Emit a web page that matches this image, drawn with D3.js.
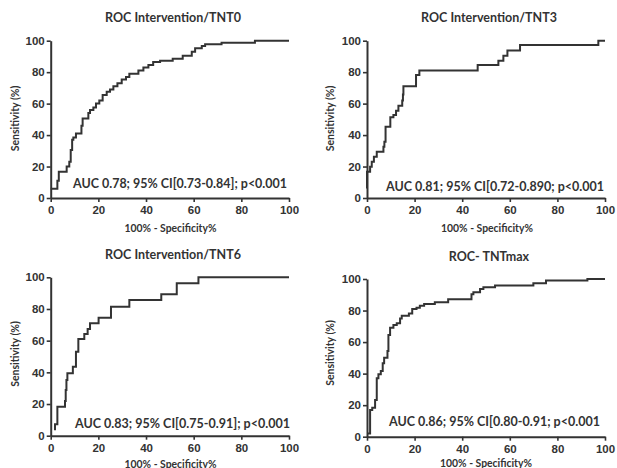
<!DOCTYPE html>
<html>
<head>
<meta charset="utf-8">
<script src="https://cdn.jsdelivr.net/npm/d3@7"></script>
<style>
  html, body { margin: 0; padding: 0; background: #fff; }
  svg { display: block; }
</style>
</head>
<body>
<svg id="chart" width="617" height="468"></svg>
<script>
// ---- data ----
const titles = ["ROC Intervention/TNT0", "ROC Intervention/TNT3", "ROC Intervention/TNT6", "ROC- TNTmax"];
const aucLabels = [
  "AUC 0.78; 95% CI[0.73-0.84]; p<0.001",
  "AUC 0.81; 95% CI[0.72-0.890; p<0.001",
  "AUC 0.83; 95% CI[0.75-0.91]; p<0.001",
  "AUC 0.86; 95% CI[0.80-0.91; p<0.001"
];
const xTicks = [0, 20, 40, 60, 80, 100];
const yTicks = [0, 20, 40, 60, 80, 100];
const xLabel = "100% - Specificity%";
const yLabel = "Sensitivity (%)";

// 100% - specificity (x) and sensitivity (y), step vertices
const tnt0Fpr  = [0, 2.8, 3.4, 6.7, 7.8, 8.4, 9, 9.5, 10.6, 12.9, 13.4, 15.8, 16.5, 17.9, 19, 20.4, 21.8, 23.5, 24.9, 26.3, 28, 29.8, 31.6, 33, 36.8, 38.9, 41, 43, 45.9, 51.2, 55.4, 59.2, 60.6, 63.4, 64.8, 71.7, 85.7, 100];
const tnt0Sens = [5.9, 11, 16.7, 20, 23, 30.5, 37, 38.5, 41, 46, 50.6, 54, 56, 57.6, 60, 62, 65.5, 67.6, 69, 71, 73, 75.4, 77, 79, 81, 83, 84.5, 86.4, 87.2, 88.5, 90.5, 93, 95.2, 96.6, 97.7, 98.7, 100, 100];

const tnt3Fpr  = [0, 0, 1.3, 2, 2.9, 4.1, 6.9, 7.3, 7.8, 9.8, 11.1, 12.2, 13.2, 14.8, 15.1, 15.3, 20.6, 22, 46.5, 55.2, 57.3, 59, 64.3, 97.2, 100];
const tnt3Sens = [6, 16.7, 19.9, 23, 26.3, 29.4, 32.6, 35.8, 45.3, 51.3, 52.7, 55.5, 58.6, 62, 65.8, 71, 78.2, 81, 84.5, 87.3, 90.5, 93.8, 97.3, 100, 100];

const tnt6Fpr  = [1.8, 1.8, 2.8, 6, 6.3, 6.6, 7, 9.3, 10.6, 11.6, 14.1, 15.5, 16.5, 20.1, 25.3, 33, 46.4, 52.9, 62, 100];
const tnt6Sens = [3.4, 7.2, 18.3, 21.9, 28.8, 35.2, 39.4, 43.6, 53, 61, 64.2, 67.4, 71, 74.5, 81.4, 85.7, 89.3, 96.2, 100, 100];

const tntMaxFpr  = [0, 1.3, 1.3, 2.2, 3.4, 4.1, 4.8, 5.8, 6.6, 7.2, 8.6, 9.0, 9.7, 11.1, 12.5, 13.9, 14.6, 17.6, 19, 20.8, 22.2, 24, 28.5, 34.1, 43.9, 44.7, 47.5, 48.9, 53.8, 69.9, 75.2, 92.6, 100];
const tntMaxSens = [2, 2, 17, 18.4, 23.3, 37, 39.6, 41.7, 46.5, 50.1, 54.3, 64.5, 69.1, 70.8, 71.9, 75, 76.7, 78.2, 81, 81.8, 83, 84.1, 85.2, 87.1, 90.3, 91.6, 93.7, 94.7, 95.8, 97.3, 99, 100, 100];

const seriesFpr = [tnt0Fpr, tnt3Fpr, tnt6Fpr, tntMaxFpr];
const seriesSens = [tnt0Sens, tnt3Sens, tnt6Sens, tntMaxSens];

// ---- layout ----
const layout = [
  { x0: 50.7, x1: 289, yt: 40.7, yb: 198, tx: 173, ty: 22, xlx: 170.5, xly: 231.5, ylx: 18.5, yly: 118.5, ax0: 73, ax1: 287, ay: 187.5 },
  { x0: 367, x1: 605, yt: 40.7, yb: 198, tx: 489, ty: 22, xlx: 487, xly: 231.5, ylx: 334, yly: 118.5, ax0: 386, ax1: 604, ay: 190.5 },
  { x0: 50.7, x1: 289, yt: 277.3, yb: 435.7, tx: 173, ty: 259, xlx: 170.5, xly: 467.5, ylx: 18.5, yly: 354, ax0: 75, ax1: 290, ay: 428 },
  { x0: 367, x1: 605, yt: 279, yb: 436.7, tx: 489, ty: 261, xlx: 486, xly: 467, ylx: 334, yly: 353, ax0: 389, ax1: 600, ay: 426 }
];

const svg = d3.select("#chart");
const ink = "#333";

layout.forEach((L, i) => {
  const g = svg.append("g");
  const x = d3.scaleLinear().domain([0, 100]).range([L.x0, L.x1]);
  const y = d3.scaleLinear().domain([0, 100]).range([L.yb, L.yt]);

  // axes
  const ya = g.append("g").attr("transform", `translate(${L.x0},0)`)
    .call(d3.axisLeft(y).tickValues(yTicks).tickSize(4).tickSizeOuter(0).tickPadding(2));
  const xa = g.append("g").attr("transform", `translate(0,${L.yb})`)
    .call(d3.axisBottom(x).tickValues(xTicks).tickSize(4).tickSizeOuter(0).tickPadding(4));
  [ya, xa].forEach(a => {
    a.select(".domain").attr("stroke", ink).attr("stroke-width", 2);
    a.selectAll(".tick line").attr("stroke", ink).attr("stroke-width", 1.6);
    a.selectAll(".tick text")
      .attr("fill", ink)
      .style("font-family", "'Liberation Sans', Arial, sans-serif")
      .style("font-weight", "bold")
      .style("font-size", "11.5px");
  });

  // ROC curve
  const pts = seriesFpr[i].map((v, k) => [v, seriesSens[i][k]]);
  const line = d3.line().x(d => x(d[0])).y(d => y(d[1])).curve(d3.curveStepAfter);
  g.append("path").datum(pts)
    .attr("d", line)
    .attr("fill", "none")
    .attr("stroke", ink)
    .attr("stroke-width", 2);

  // title
  g.append("text")
    .attr("x", L.tx).attr("y", L.ty)
    .attr("text-anchor", "middle")
    .attr("fill", ink)
    .style("font-family", "Lato, 'Open Sans', sans-serif")
    .style("font-weight", "bold")
    .style("font-size", "12.5px")
    .text(titles[i]);

  // x label
  g.append("text")
    .attr("x", L.xlx).attr("y", L.xly)
    .attr("text-anchor", "middle")
    .attr("fill", ink)
    .style("font-family", "Lato, 'Open Sans', sans-serif")
    .style("font-weight", "bold")
    .style("font-size", "10.4px")
    .text(xLabel);

  // y label
  g.append("text")
    .attr("transform", `translate(${L.ylx},${L.yly}) rotate(-90)`)
    .attr("text-anchor", "middle")
    .attr("fill", ink)
    .style("font-family", "Lato, 'Open Sans', sans-serif")
    .style("font-weight", "bold")
    .style("font-size", "10.5px")
    .text(yLabel);

  // AUC annotation
  g.append("text")
    .attr("x", L.ax0).attr("y", L.ay)
    .attr("textLength", L.ax1 - L.ax0)
    .attr("lengthAdjust", "spacingAndGlyphs")
    .attr("fill", ink)
    .style("font-family", "Lato, 'Open Sans', sans-serif")
    .style("font-weight", "bold")
    .style("font-size", "12.5px")
    .text(aucLabels[i]);
});
</script>
</body>
</html>
